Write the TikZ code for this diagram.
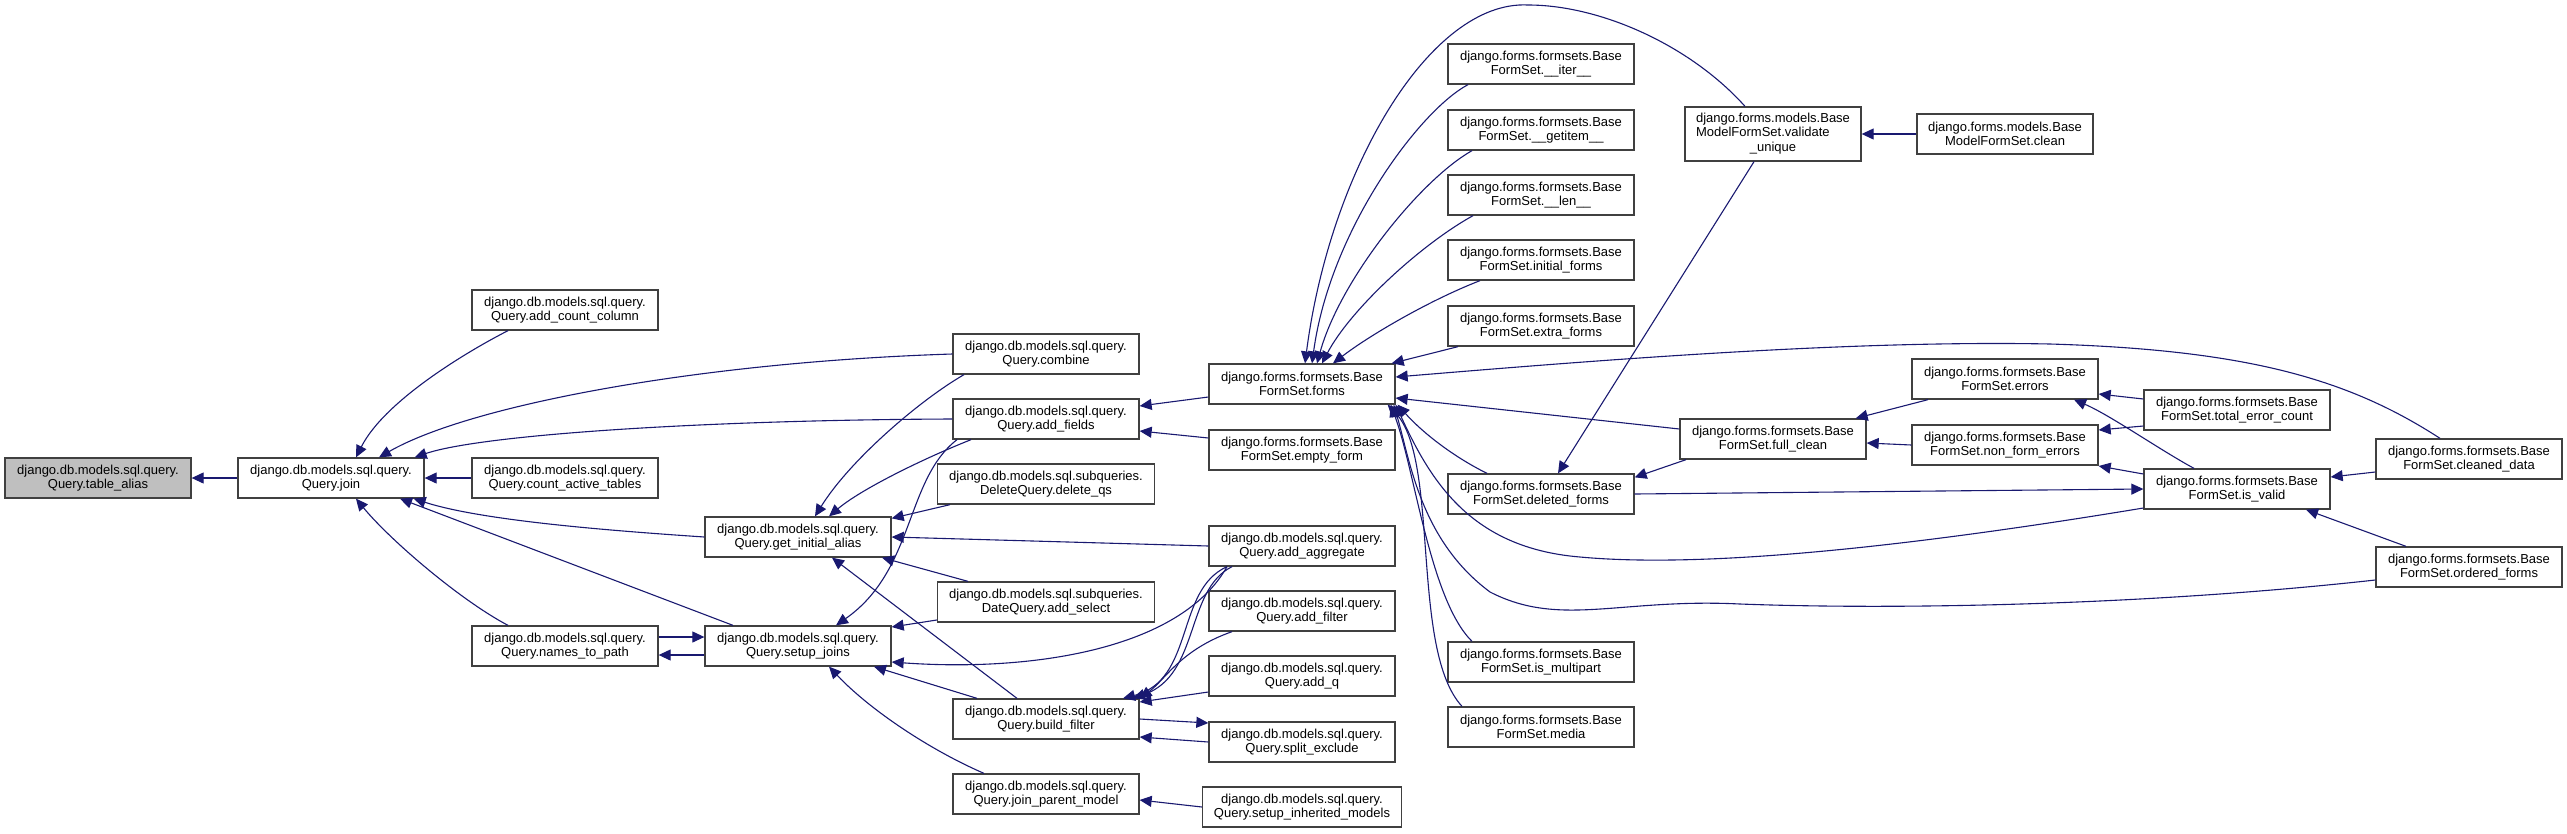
\documentclass[tikz,border=0pt]{standalone}
\usepackage{fontspec}
\setmainfont{Liberation Sans}
\usetikzlibrary{
    arrows.meta
}
\definecolor{edgeblue}{RGB}{25,25,112}
\definecolor{boxline}{RGB}{64,64,64}
\definecolor{rootgray}{RGB}{191,191,191}

\begin{document}
\begin{tikzpicture}[x=1pt, y=-1pt,
    fn/.style={draw=boxline, line width=1.3pt, fill=white, align=center, inner sep=0pt,
      minimum width=186pt, minimum height=40pt, font=\fontsize{13}{14.5}\selectfont},
    call/.style={draw=edgeblue, line width=1.1pt, -{Triangle[length=12pt,width=11pt]}}]
    \useasboundingbox (0,0) rectangle (2567,833);

    % query side
    \node[fn, fill=rootgray] (ta) at (98,478) {django.db.models.sql.query.\\Query.table\_alias};
    \node[fn] (jn) at (331,478) {django.db.models.sql.query.\\Query.join};
    \node[fn] (acc) at (565,310) {django.db.models.sql.query.\\Query.add\_count\_column};
    \node[fn] (cat) at (565,478) {django.db.models.sql.query.\\Query.count\_active\_tables};
    \node[fn] (ntp) at (565,646) {django.db.models.sql.query.\\Query.names\_to\_path};
    \node[fn] (gia) at (798,537) {django.db.models.sql.query.\\Query.get\_initial\_alias};
    \node[fn] (sj) at (798,646) {django.db.models.sql.query.\\Query.setup\_joins};
    \node[fn] (cmb) at (1046,354) {django.db.models.sql.query.\\Query.combine};
    \node[fn] (af) at (1046,419) {django.db.models.sql.query.\\Query.add\_fields};
    \node[fn, minimum width=217pt] (dqs) at (1046,484) {django.db.models.sql.subqueries.\\DeleteQuery.delete\_qs};
    \node[fn, minimum width=217pt] (asel) at (1046,602) {django.db.models.sql.subqueries.\\DateQuery.add\_select};
    \node[fn] (bf) at (1046,719) {django.db.models.sql.query.\\Query.build\_filter};
    \node[fn] (jpm) at (1046,794) {django.db.models.sql.query.\\Query.join\_parent\_model};
    \node[fn] (aag) at (1302,546) {django.db.models.sql.query.\\Query.add\_aggregate};
    \node[fn] (afl) at (1302,611) {django.db.models.sql.query.\\Query.add\_filter};
    \node[fn] (aq) at (1302,676) {django.db.models.sql.query.\\Query.add\_q};
    \node[fn] (se) at (1302,742) {django.db.models.sql.query.\\Query.split\_exclude};
    \node[fn, minimum width=199pt] (sim) at (1302,807) {django.db.models.sql.query.\\Query.setup\_inherited\_models};

    % formset side
    \node[fn] (fm) at (1302,384) {django.forms.formsets.Base\\FormSet.forms};
    \node[fn] (ef) at (1302,450) {django.forms.formsets.Base\\FormSet.empty\_form};
    \node[fn] (iter) at (1541,64) {django.forms.formsets.Base\\FormSet.\_\_iter\_\_};
    \node[fn] (getitem) at (1541,130) {django.forms.formsets.Base\\FormSet.\_\_getitem\_\_};
    \node[fn] (len) at (1541,195) {django.forms.formsets.Base\\FormSet.\_\_len\_\_};
    \node[fn] (initf) at (1541,260) {django.forms.formsets.Base\\FormSet.initial\_forms};
    \node[fn] (extf) at (1541,326) {django.forms.formsets.Base\\FormSet.extra\_forms};
    \node[fn] (dfm) at (1541,494) {django.forms.formsets.Base\\FormSet.deleted\_forms};
    \node[fn] (mp) at (1541,662) {django.forms.formsets.Base\\FormSet.is\_multipart};
    \node[fn] (media) at (1541,727) {django.forms.formsets.Base\\FormSet.media};
    \node[fn, minimum width=176pt, minimum height=54pt] (vu) at (1773,134)
      {\begin{tabular}{@{}l@{}}django.forms.models.Base\\ModelFormSet.validate\\\multicolumn{1}{@{}c@{}}{\_unique}\end{tabular}};
    \node[fn] (fc) at (1773,439) {django.forms.formsets.Base\\FormSet.full\_clean};
    \node[fn, minimum width=176pt] (cl) at (2005,134) {django.forms.models.Base\\ModelFormSet.clean};
    \node[fn] (er) at (2005,379) {django.forms.formsets.Base\\FormSet.errors};
    \node[fn] (nfe) at (2005,445) {django.forms.formsets.Base\\FormSet.non\_form\_errors};
    \node[fn] (tec) at (2237,410) {django.forms.formsets.Base\\FormSet.total\_error\_count};
    \node[fn] (iv) at (2237,489) {django.forms.formsets.Base\\FormSet.is\_valid};
    \node[fn] (cd) at (2469,459) {django.forms.formsets.Base\\FormSet.cleaned\_data};
    \node[fn] (of) at (2469,567) {django.forms.formsets.Base\\FormSet.ordered\_forms};

    % calls into join and table_alias
    \draw[call] (jn.west) -- (ta.east);
    \draw[call] ([xshift=-57pt]acc.south) .. controls (470,350) and (385,400) .. ([xshift=25pt]jn.north);
    \draw[call] (cmb.west) .. controls (700,362) and (470,405) .. ([xshift=48pt]jn.north);
    \draw[call] (af.west) .. controls (700,420) and (480,435) .. ([xshift=-10pt]jn.north east);
    \draw[call] (cat.west) -- (jn.east);
    \draw[call] (gia.west) .. controls (600,530) and (480,520) .. ([xshift=-11pt]jn.south east);
    \draw[call] ([xshift=-65pt]sj.north) -- ([xshift=69pt]jn.south);
    \draw[call] ([xshift=-57pt]ntp.north) .. controls (460,600) and (390,540) .. ([xshift=25pt]jn.south);
    \draw[call] ([yshift=9pt]ntp.east) -- ([yshift=9pt]sj.west);
    \draw[call] ([yshift=-9pt]sj.west) -- ([yshift=-9pt]ntp.east);

    % calls into get_initial_alias and setup_joins
    \draw[call] ([xshift=-82pt]cmb.south) .. controls (920,400) and (850,460) .. ([xshift=17pt]gia.north);
    \draw[call] ([xshift=-75pt]af.south) .. controls (920,460) and (860,490) .. ([xshift=31pt]gia.north);
    \draw[call] ([xshift=-96pt]dqs.south) -- ([yshift=-2pt]gia.north east);
    \draw[call] (aag.west) -- (gia.east);
    \draw[call] ([xshift=-78pt]asel.north) -- ([xshift=84pt]gia.south);
    \draw[call] ([xshift=-29pt]bf.north) -- ([xshift=34pt]gia.south);
    \draw[call] ([xshift=-89pt]af.south) .. controls (905,480) and (915,570) .. ([xshift=38pt]sj.north);
    \draw[call] ([yshift=-18pt]asel.west) -- ([yshift=19pt]sj.east);
    \draw[call] ([xshift=-75pt]aag.south) .. controls (1180,650) and (1030,672) .. ([yshift=-16pt]sj.east);
    \draw[call] ([xshift=-69pt]bf.north) -- ([xshift=76pt]sj.south);
    \draw[call] ([xshift=-62pt]jpm.north) .. controls (930,750) and (870,710) .. ([xshift=31pt]sj.south);

    % calls into add_fields and build_filter
    \draw[call] ([yshift=-13pt]fm.west) -- ([yshift=13pt]af.east);
    \draw[call] ([yshift=12pt]ef.west) -- ([yshift=-12pt]af.east);
    \draw[call] ([xshift=-75pt]aag.south) .. controls (1175,590) and (1195,680) .. ([xshift=77pt]bf.north);
    \draw[call] ([xshift=-70pt]aag.south) .. controls (1185,590) and (1200,675) .. ([xshift=87pt]bf.north);
    \draw[call] ([xshift=-70pt]afl.south) .. controls (1180,650) and (1165,680) .. (bf.north east);
    \draw[call] ([yshift=-16pt]aq.west) -- ([yshift=17pt]bf.east);
    \draw[call] (bf.east) -- ([yshift=19pt]se.west);
    \draw[call] (se.west) -- ([yshift=-18pt]bf.east);
    \draw[call] (sim.west) -- ([yshift=-6pt]jpm.east);

    % calls into forms
    \draw[call] ([xshift=-28pt]vu.north) .. controls (1690,45) and (1600,5) .. (1528,5)
      .. controls (1430,0) and (1330,170) .. ([xshift=3pt]fm.north);
    \draw[call] ([xshift=-73pt]iter.south) .. controls (1420,110) and (1330,230) .. ([xshift=10pt]fm.north);
    \draw[call] ([xshift=-69pt]getitem.south) .. controls (1420,180) and (1340,280) .. ([xshift=15pt]fm.north);
    \draw[call] ([xshift=-68pt]len.south) .. controls (1420,245) and (1350,310) .. ([xshift=20pt]fm.north);
    \draw[call] ([xshift=-61pt]initf.south) .. controls (1430,300) and (1370,335) .. ([xshift=31pt]fm.north);
    \draw[call] ([xshift=-83pt]extf.south) -- ([xshift=-4pt]fm.north east);
    \draw[call] ([xshift=-29pt]cd.north) .. controls (2350,380) and (2250,350) .. (2050,344)
      .. controls (1850,340) and (1600,360) .. ([yshift=7pt]fm.east);
    \draw[call] ([yshift=10pt]fc.west) -- ([yshift=-14pt]fm.east);
    \draw[call] ([xshift=-54pt]dfm.north) .. controls (1450,455) and (1420,430) .. ([xshift=2pt]fm.south east);
    \draw[call] ([yshift=-19pt]iv.west) .. controls (1950,540) and (1720,570) .. (1580,557)
      .. controls (1470,548) and (1430,480) .. (fm.south east);
    \draw[call] ([yshift=-13pt]of.west) .. controls (2150,605) and (1900,610) .. (1740,604)
      .. controls (1620,598) and (1560,628) .. (1490,592)
      .. controls (1420,540) and (1410,460) .. ([xshift=-2pt]fm.south east);
    \draw[call] ([xshift=-69pt]mp.north) .. controls (1430,600) and (1415,470) .. ([xshift=-5pt]fm.south east);
    \draw[call] ([xshift=-79pt]media.north) .. controls (1410,650) and (1440,460) .. ([xshift=-8pt]fm.south east);

    % calls among the formset methods
    \draw[call] ([xshift=-19pt]vu.south) -- ([xshift=17pt]dfm.north);
    \draw[call] (cl.west) -- (vu.east);
    \draw[call] ([xshift=-87pt]fc.south) -- ([yshift=-4pt]dfm.north east);
    \draw[call] ([xshift=-77pt]er.south) -- ([xshift=-11pt]fc.north east);
    \draw[call] (nfe.west) -- ([yshift=-4pt]fc.east);
    \draw[call] (dfm.east) -- (iv.west);
    \draw[call] ([yshift=11pt]tec.west) -- ([yshift=-15pt]er.east);
    \draw[call] ([yshift=-16pt]tec.west) -- ([yshift=15pt]nfe.east);
    \draw[call] ([xshift=-43pt]iv.north) .. controls (2160,450) and (2110,415) .. ([xshift=69pt]er.south);
    \draw[call] ([yshift=15pt]iv.west) -- ([yshift=-21pt]nfe.east);
    \draw[call] ([yshift=-13pt]cd.west) -- ([yshift=12pt]iv.east);
    \draw[call] ([xshift=-63pt]of.north) -- ([xshift=69pt]iv.south);
\end{tikzpicture}
\end{document}
